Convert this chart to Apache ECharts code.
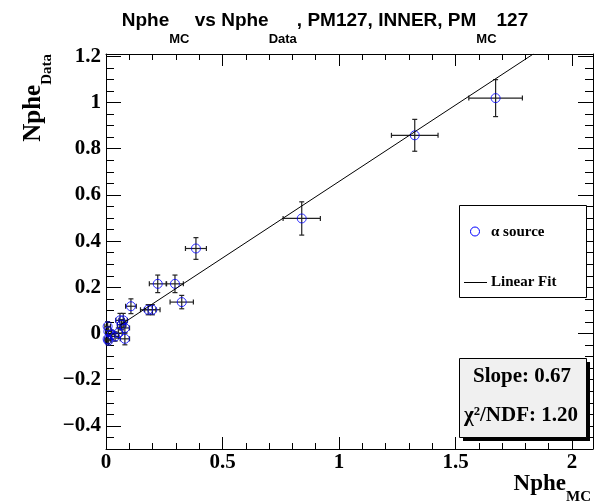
<!DOCTYPE html>
<html>
<head>
<meta charset="utf-8">
<script src="https://cdn.jsdelivr.net/npm/echarts@6/dist/echarts.min.js"></script>
<style>html,body{margin:0;padding:0;background:#fff}#c{width:595px;height:504px}</style>
</head>
<body>
<div id="c"></div>
<script>
// ---- data ----
const xMC   = [0.007, 0.007, 0.010, 0.010, 0.024, 0.039, 0.053, 0.060, 0.067, 0.074, 0.081, 0.081, 0.107, 0.181, 0.199, 0.222, 0.296, 0.325, 0.386, 0.840, 1.325, 1.672];
const yData = [0.031, -0.024, -0.031, 0.009, -0.005, -0.013, 0.002, 0.057, 0.038, 0.057, 0.024, -0.023, 0.118, 0.103, 0.103, 0.215, 0.215, 0.136, 0.368, 0.498, 0.858, 1.019];
const xErr  = [0.012, 0.012, 0.012, 0.012, 0.013, 0.015, 0.016, 0.018, 0.018, 0.018, 0.020, 0.020, 0.023, 0.033, 0.033, 0.036, 0.036, 0.050, 0.045, 0.080, 0.100, 0.115];
const yErr  = [0.020, 0.020, 0.020, 0.020, 0.020, 0.020, 0.022, 0.030, 0.022, 0.030, 0.022, 0.026, 0.032, 0.022, 0.022, 0.038, 0.038, 0.029, 0.047, 0.072, 0.069, 0.080];
const fitSlope = 0.662;
const fitIntercept = -0.004;
const fitXStart = 0.06;
const xRange = [0, 2.09];
const yRange = [-0.5, 1.21];
const xMajor = [0, 0.5, 1, 1.5, 2];
const yMajor = [-0.4, -0.2, 0, 0.2, 0.4, 0.6, 0.8, 1, 1.2];
const slopeText = 'Slope: 0.67';
const chiText = 'χ²/NDF: 1.20';
const legendNames = ['α source', 'Linear Fit'];

// minor tick positions
const xMinor = []; for (let i = 0; i <= 20; i++) xMinor.push(+(i * 0.1).toFixed(2));
const yMinor = []; for (let i = -10; i <= 24; i++) yMinor.push(+(i * 0.05).toFixed(2));

const serif = 'Liberation Serif';
const sans = 'Liberation Sans';
const fmt = v => (v < 0 ? '\u2212' + String(Math.abs(v)) : String(v));

function mkX(pos, ticks, len, labels, line) {
  return {
    type: 'value', position: pos, min: xRange[0], max: xRange[1],
    axisLine: { show: line, onZero: false, lineStyle: { color: '#000', width: 1 } },
    axisTick: { show: true, inside: true, length: len, customValues: ticks, lineStyle: { color: '#000', width: 1 } },
    axisLabel: labels ? { show: true, customValues: ticks, formatter: fmt, color: '#000', fontFamily: serif, fontWeight: 'bold', fontSize: 21, margin: 3 } : { show: false },
    splitLine: { show: false }
  };
}
function mkY(pos, ticks, len, labels, line) {
  return {
    type: 'value', position: pos, min: yRange[0], max: yRange[1],
    axisLine: { show: line, onZero: false, lineStyle: { color: '#000', width: 1 } },
    axisTick: { show: true, inside: true, length: len, customValues: ticks, lineStyle: { color: '#000', width: 1 } },
    axisLabel: labels ? { show: true, customValues: ticks, formatter: fmt, color: '#000', fontFamily: serif, fontWeight: 'bold', fontSize: 21, margin: 5 } : { show: false },
    splitLine: { show: false }
  };
}

const pts = xMC.map((x, i) => [x, yData[i], xErr[i], yErr[i]]);
const fitXEnd = Math.min(xRange[1], (yRange[1] - fitIntercept) / fitSlope);
const fitLine = [[fitXStart, fitSlope * fitXStart + fitIntercept], [fitXEnd, fitSlope * fitXEnd + fitIntercept]];

const chart = echarts.init(document.getElementById('c'), null, { renderer: 'canvas' });
chart.setOption({
  animation: false,
  backgroundColor: '#fff',
  grid: { left: 106, right: 2, top: 54, bottom: 55, containLabel: false },
  xAxis: [
    mkX('bottom', xMajor, 12, true, true),
    mkX('bottom', xMinor, 6, false, false),
    mkX('top', xMajor, 12, false, true),
    mkX('top', xMinor, 6, false, false)
  ],
  yAxis: [
    mkY('left', yMajor, 15, true, true),
    mkY('left', yMinor, 8, false, false),
    mkY('right', yMajor, 15, false, true),
    mkY('right', yMinor, 8, false, false)
  ],
  series: [
    {
      type: 'custom', xAxisIndex: 0, yAxisIndex: 0, z: 2,
      data: pts, encode: { x: 0, y: 1 },
      renderItem: function (params, api) {
        const x = api.value(0), y = api.value(1), ex = api.value(2), ey = api.value(3);
        const c = api.coord([x, y]);
        const l = api.coord([x - ex, y]), r = api.coord([x + ex, y]);
        const t = api.coord([x, y + ey]), b = api.coord([x, y - ey]);
        const cap = 2.5;
        const st = { stroke: '#222', lineWidth: 1.2 };
        return {
          type: 'group', children: [
            { type: 'line', shape: { x1: l[0], y1: c[1], x2: r[0], y2: c[1] }, style: st },
            { type: 'line', shape: { x1: c[0], y1: t[1], x2: c[0], y2: b[1] }, style: st },
            { type: 'line', shape: { x1: l[0], y1: c[1] - cap, x2: l[0], y2: c[1] + cap }, style: st },
            { type: 'line', shape: { x1: r[0], y1: c[1] - cap, x2: r[0], y2: c[1] + cap }, style: st },
            { type: 'line', shape: { x1: c[0] - cap, y1: t[1], x2: c[0] + cap, y2: t[1] }, style: st },
            { type: 'line', shape: { x1: c[0] - cap, y1: b[1], x2: c[0] + cap, y2: b[1] }, style: st }
          ]
        };
      }
    },
    {
      type: 'scatter', name: legendNames[0], xAxisIndex: 0, yAxisIndex: 0, z: 3,
      data: pts.map(p => [p[0], p[1]]),
      symbol: 'circle', symbolSize: 9,
      itemStyle: { color: 'rgba(0,0,0,0)', borderColor: '#0000ff', borderWidth: 1 }
    },
    {
      type: 'line', name: legendNames[1], xAxisIndex: 0, yAxisIndex: 0, z: 4,
      data: fitLine, symbol: 'none', clip: true,
      lineStyle: { color: '#000', width: 1 }
    }
  ],
  graphic: [
    // title
    {
      type: 'text', x: 325, y: 11, z: 10,
      style: {
        text: '{m|Nphe}{s|MC}{m| vs Nphe}{s|Data}{m|, PM127, INNER, PM}{s|MC}{m|127}',
        align: 'center', verticalAlign: 'top',
        rich: {
          m: { fontFamily: sans, fontWeight: 'bold', fontSize: 19, lineHeight: 21, verticalAlign: 'top', fill: '#000' },
          s: { fontFamily: sans, fontWeight: 'bold', fontSize: 13, lineHeight: 13, padding: [22, 0, 0, 0], verticalAlign: 'top', fill: '#000' }
        }
      }
    },
    // y axis title
    {
      type: 'text', x: 21, y: 54, rotation: Math.PI / 2, z: 10,
      style: {
        text: '{m|Nphe}{s|Data}', align: 'right', verticalAlign: 'top',
        rich: {
          m: { fontFamily: serif, fontWeight: 'bold', fontSize: 25, lineHeight: 26, verticalAlign: 'top', fill: '#000' },
          s: { fontFamily: serif, fontWeight: 'bold', fontSize: 15, lineHeight: 15, padding: [19, 0, 0, 0], verticalAlign: 'top', fill: '#000' }
        }
      }
    },
    // x axis title
    {
      type: 'text', x: 591, y: 473, z: 10,
      style: {
        text: '{m|Nphe}{s|MC}', align: 'right', verticalAlign: 'top',
        rich: {
          m: { fontFamily: serif, fontWeight: 'bold', fontSize: 23, lineHeight: 24, verticalAlign: 'top', fill: '#000' },
          s: { fontFamily: serif, fontWeight: 'bold', fontSize: 15, lineHeight: 15, padding: [17, 0, 0, 0], verticalAlign: 'top', fill: '#000' }
        }
      }
    },
    // legend box
    { type: 'rect', z: 20, shape: { x: 459.5, y: 205.5, width: 127, height: 92 }, style: { fill: '#fff', stroke: '#000', lineWidth: 1 } },
    { type: 'circle', z: 21, shape: { cx: 475, cy: 231.5, r: 4.5 }, style: { fill: 'none', stroke: '#0000ff', lineWidth: 1 } },
    { type: 'text', z: 21, x: 491, y: 232, style: { text: legendNames[0], font: 'bold 15px "Liberation Serif"', fill: '#000', verticalAlign: 'middle' } },
    { type: 'line', z: 21, shape: { x1: 464, y1: 282.5, x2: 487, y2: 282.5 }, style: { stroke: '#000', lineWidth: 1 } },
    { type: 'text', z: 21, x: 491, y: 282, style: { text: legendNames[1], font: 'bold 15px "Liberation Serif"', fill: '#000', verticalAlign: 'middle' } },
    // stats box
    { type: 'rect', z: 20, shape: { x: 463, y: 362, width: 127, height: 79 }, style: { fill: '#000' } },
    { type: 'rect', z: 21, shape: { x: 459.5, y: 358.5, width: 127, height: 79 }, style: { fill: '#f0f0f0', stroke: '#000', lineWidth: 1 } },
    { type: 'text', z: 22, x: 522, y: 377, style: { text: slopeText, font: 'bold 21px "Liberation Serif"', fill: '#000', align: 'center', verticalAlign: 'middle' } },
    { type: 'text', z: 22, x: 521, y: 416, style: { text: chiText, font: 'bold 21px "Liberation Serif"', fill: '#000', align: 'center', verticalAlign: 'middle' } }
  ]
});
</script>
</body>
</html>
